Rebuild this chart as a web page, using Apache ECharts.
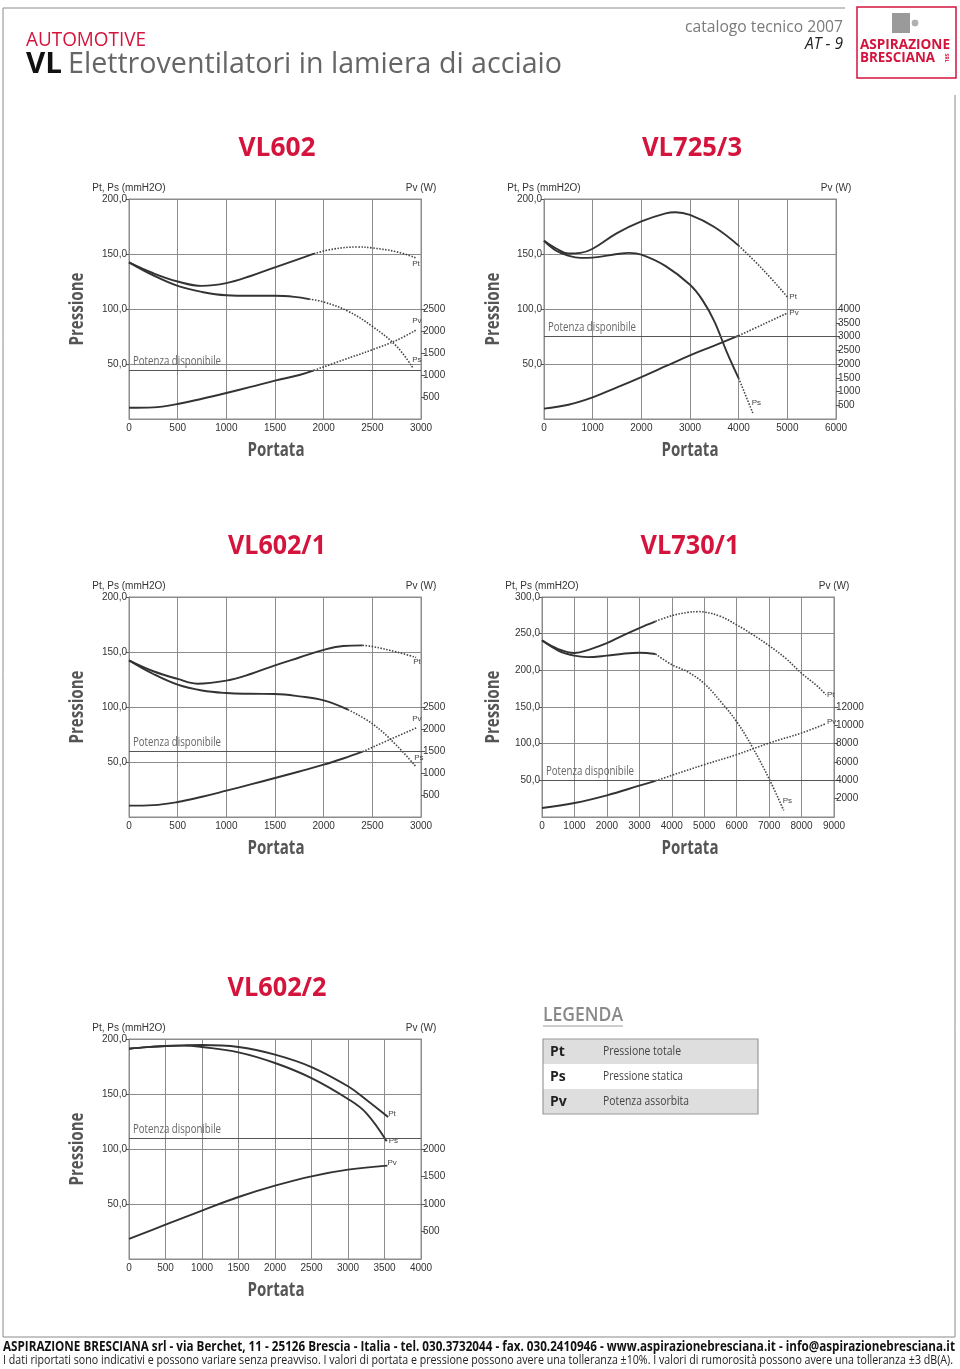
<!DOCTYPE html>
<html>
<head>
<meta charset="utf-8">
<title>VL Elettroventilatori in lamiera di acciaio</title>
<script src="https://cdn.jsdelivr.net/npm/echarts@6/dist/echarts.min.js"></script>
<style>
  html, body { margin: 0; padding: 0; background: #fff; }
  #main { width: 960px; height: 1369px; }
</style>
</head>
<body>
<div id="main"></div>
<script>
  // curve data read from the catalogue: [portata, value]
  // Pt / Ps in mmH2O (left axis), Pv in W (right axis)
  const vl602Pt = [[0,142.4],[250,132.5],[500,125],[750,121],[1000,123.5],[1250,130],[1500,137.9],[1750,145.5],[1900,150.3],[2100,154.5],[2350,156.4],[2500,155.5],[2750,152],[2950,146.4]];
  const vl602Ps = [[0,142.4],[250,130.5],[500,121],[750,115.5],[1000,112.5],[1250,112],[1500,112],[1700,111],[1850,109],[2000,106.4],[2250,98],[2500,84.2],[2750,66],[2920,46]];
  const vl602Pv = [[0,255],[250,265],[500,341],[750,460],[1000,591],[1250,730],[1500,871],[1750,1000],[1900,1106],[2200,1340],[2500,1576],[2750,1790],[2950,2023]];
  const vl602SolidEnd = [1900, 1850, 1900];
  const vl602Potenza = 1100;

  const vl725Pt = [[0,162],[250,155],[500,150.5],[750,151],[1000,154.8],[1500,169],[2000,179.7],[2500,187],[2700,188],[3000,185.5],[3500,174.5],[4000,157.6],[4500,135.8],[5000,111]];
  const vl725Ps = [[0,162],[250,153],[500,148.5],[750,146.5],[1000,146.7],[1500,150],[1750,151],[2000,149.4],[2500,139],[3000,122],[3250,108.5],[3500,88.8],[3750,61.5],[4000,37],[4290,5.5]];
  const vl725Pv = [[0,376],[500,520],[1000,788],[1500,1150],[2000,1527],[2500,1920],[3000,2315],[3500,2670],[4000,3030],[4500,3440],[5000,3854]];
  const vl725SolidEnd = [4000, 4000, 4000];
  const vl725Potenza = 3000;

  const vl6021Pt = [[0,142.4],[250,132.5],[500,125.5],[700,121.2],[1000,124],[1250,130],[1500,137.9],[1750,145],[2000,152],[2200,155.5],[2400,156],[2500,155],[2750,150],[2950,145]];
  const vl6021Ps = [[0,142.4],[250,130],[500,120.3],[750,115],[1000,112.7],[1250,112],[1500,111.8],[1750,109.7],[2000,106],[2250,97.6],[2500,84.8],[2750,65],[2950,45.5]];
  const vl6021Pv = [[0,258],[250,270],[500,341],[750,460],[1000,598],[1250,740],[1500,886],[1750,1035],[2000,1189],[2200,1330],[2400,1485],[2700,1780],[2950,2023]];
  const vl6021SolidEnd = [2400, 2250, 2400];
  const vl6021Potenza = 1500;

  const vl730Pt = [[0,240.9],[500,229],[1000,223.6],[1500,229],[2000,237],[2500,247.7],[3000,257.7],[3500,266.8],[4000,274.5],[4500,279],[4800,280],[5000,279.5],[5500,273.6],[6000,262],[6500,248.6],[7000,233.6],[7500,216.8],[8000,196],[8500,178],[8750,166.8]];
  const vl730Ps = [[0,240.9],[500,227],[1000,220],[1400,218],[2000,220],[2500,222.7],[3000,224],[3500,222.3],[4000,207.7],[4500,197.7],[5000,182],[5500,157.7],[6000,130],[6500,94],[7000,52],[7450,9]];
  const vl730Pv = [[0,982],[1000,1527],[2000,2363],[3000,3418],[3500,3950],[4000,4545],[5000,5709],[6000,6800],[7000,8072],[8000,9163],[8750,10181]];
  const vl730SolidEnd = [3500, 3500, 3500];
  const vl730Potenza = 4000;

  const vl6022Pt = [[0,191.2],[250,192.6],[500,193.6],[750,194.2],[1000,194.5],[1500,192.7],[2000,185.8],[2500,174.5],[3000,157],[3250,144.8],[3550,129]];
  const vl6022Ps = [[0,191.2],[250,192.6],[500,193.6],[750,194],[1000,192.7],[1500,187.9],[2000,178.2],[2500,164.5],[3000,145.5],[3250,132.7],[3530,107]];
  const vl6022Pv = [[0,364],[500,624],[1000,880],[1500,1127],[2000,1333],[2500,1503],[3000,1624],[3540,1697]];
  const vl6022SolidEnd = [3550, 3530, 3540];
  const vl6022Potenza = 2200;

  // tick labels
  const press200Ticks = [50, 100, 150, 200];
  const press300Ticks = [50, 100, 150, 200, 250, 300];
  const vl602PvTicks = [500, 1000, 1500, 2000, 2500];
  const vl725PvTicks = [500, 1000, 1500, 2000, 2500, 3000, 3500, 4000];
  const vl730PvTicks = [2000, 4000, 6000, 8000, 10000, 12000];
  const vl6022PvTicks = [500, 1000, 1500, 2000];

  const RED = '#d4143c';
  const AX = '"Liberation Sans", Arial, sans-serif';
  const HF = '"Open Sans", "Noto Sans", sans-serif';
  const GRIDC = '#8c8c8c';
  const CURVE = '#333';

  const charts = [
    { title: 'VL602', left: 129, top: 199, xMax: 3000, xStep: 500, yMax: 200, yTicks: press200Ticks,
      pvMax: 5000, pvStep: 500, pvTicks: vl602PvTicks, potenza: vl602Potenza,
      curves: [[vl602Pt, vl602SolidEnd[0], 'Pt', [-4, 6], 0], [vl602Ps, vl602SolidEnd[1], 'Ps', [-1, -9], 0], [vl602Pv, vl602SolidEnd[2], 'Pv', [-4, -9], 1]],
      titleW: 77, pressX: 78, portX: 276 },
    { title: 'VL725/3', left: 544, top: 199, xMax: 6000, xStep: 1000, yMax: 200, yTicks: press200Ticks,
      pvMax: 8000, pvStep: 500, pvTicks: vl725PvTicks, potenza: vl725Potenza,
      curves: [[vl725Pt, vl725SolidEnd[0], 'Pt', [2, 0], 0], [vl725Ps, vl725SolidEnd[1], 'Ps', [-1, -10], 0], [vl725Pv, vl725SolidEnd[2], 'Pv', [2, 0], 1]],
      titleW: 100, pressX: 494, portX: 690 },
    { title: 'VL602/1', left: 129, top: 597, xMax: 3000, xStep: 500, yMax: 200, yTicks: press200Ticks,
      pvMax: 5000, pvStep: 500, pvTicks: vl602PvTicks, potenza: vl6021Potenza,
      curves: [[vl6021Pt, vl6021SolidEnd[0], 'Pt', [-3, 4], 0], [vl6021Ps, vl6021SolidEnd[1], 'Ps', [-2, -9], 0], [vl6021Pv, vl6021SolidEnd[2], 'Pv', [-4, -9], 1]],
      titleW: 98, pressX: 78, portX: 276 },
    { title: 'VL730/1', left: 542, top: 597, xMax: 9000, xStep: 1000, yMax: 300, yTicks: press300Ticks,
      pvMax: 24000, pvStep: 2000, pvTicks: vl730PvTicks, potenza: vl730Potenza,
      curves: [[vl730Pt, vl730SolidEnd[0], 'Pt', [1, 0], 0], [vl730Ps, vl730SolidEnd[1], 'Ps', [-1, -10], 0], [vl730Pv, vl730SolidEnd[2], 'Pv', [1, -2], 1]],
      titleW: 99, pressX: 494, portX: 690 },
    { title: 'VL602/2', left: 129, top: 1039, xMax: 4000, xStep: 500, yMax: 200, yTicks: press200Ticks,
      pvMax: 4000, pvStep: 500, pvTicks: vl6022PvTicks, potenza: vl6022Potenza,
      curves: [[vl6022Pt, vl6022SolidEnd[0], 'Pt', [0, -3], 0], [vl6022Ps, vl6022SolidEnd[1], 'Ps', [2, -1], 0], [vl6022Pv, vl6022SolidEnd[2], 'Pv', [0, -3], 1]],
      titleW: 99, pressX: 78, portX: 276 }
  ];
  const PW = 292, PH = 220;

  const grid = [], xAxis = [], yAxis = [], series = [];

  charts.forEach((c, i) => {
    grid.push({ left: c.left, top: c.top, width: PW, height: PH, show: true, borderColor: GRIDC, borderWidth: 1, backgroundColor: 'transparent' });
    xAxis.push({
      gridIndex: i, type: 'value', min: 0, max: c.xMax, interval: c.xStep,
      axisLine: { show: true, onZero: false, lineStyle: { color: GRIDC } },
      axisTick: { show: false },
      axisLabel: { fontSize: 10, color: '#333', fontFamily: AX, margin: 4, showMaxLabel: true, showMinLabel: true,
        formatter: v => String(v) },
      splitLine: { show: true, lineStyle: { color: GRIDC, width: 1 } }
    });
    yAxis.push({
      gridIndex: i, type: 'value', position: 'left', min: 0, max: c.yMax, interval: 50,
      name: 'Pt, Ps (mmH2O)', nameLocation: 'end', nameGap: 6,
      nameTextStyle: { fontSize: 10, color: '#333', fontFamily: AX, align: 'center' },
      axisLine: { show: true, lineStyle: { color: GRIDC } },
      axisTick: { show: true, length: 3, customValues: c.yTicks, lineStyle: { color: '#555' } },
      axisLabel: { customValues: c.yTicks, fontSize: 10, color: '#333', fontFamily: AX, margin: 2,
        formatter: v => v.toFixed(1).replace('.', ',') },
      splitLine: { show: true, lineStyle: { color: GRIDC, width: 1 } }
    });
    yAxis.push({
      gridIndex: i, type: 'value', position: 'right', min: 0, max: c.pvMax, interval: c.pvStep,
      name: 'Pv (W)', nameLocation: 'end', nameGap: 6,
      nameTextStyle: { fontSize: 10, color: '#333', fontFamily: AX, align: 'center' },
      axisLine: { show: true, lineStyle: { color: GRIDC } },
      axisTick: { show: true, length: 4, customValues: c.pvTicks, lineStyle: { color: '#555' } },
      axisLabel: { customValues: c.pvTicks, fontSize: 10, color: '#333', fontFamily: AX, margin: 2,
        formatter: v => String(v) },
      splitLine: { show: false }
    });

    c.curves.forEach(([pts, solidEnd, name, off, side]) => {
      const solid = pts.filter(p => p[0] <= solidEnd);
      const dotted = pts.filter(p => p[0] >= solidEnd);
      const yIdx = 2 * i + side;
      const endLabel = { show: true, formatter: name, offset: off, distance: 0, fontSize: 8, color: '#444', fontFamily: AX };
      const hasDotted = dotted.length > 1;
      const solidS = {
        type: 'line', name: c.title + ' ' + name, xAxisIndex: i, yAxisIndex: yIdx,
        data: solid, smooth: 0.4, showSymbol: false, silent: true,
        lineStyle: { color: CURVE, width: 1.9 }, itemStyle: { color: CURVE },
        endLabel: hasDotted ? { show: false } : endLabel
      };
      if (side === 1) {
        solidS.markLine = {
          silent: true, symbol: 'none', animation: false,
          lineStyle: { color: '#555', width: 1, type: 'solid' },
          label: { show: false },
          data: [{ yAxis: c.potenza }]
        };
      }
      series.push(solidS);
      if (hasDotted) {
        series.push({
          type: 'line', name: c.title + ' ' + name + ' (oltre)', xAxisIndex: i, yAxisIndex: yIdx,
          data: dotted, smooth: 0.4, showSymbol: false, silent: true,
          lineStyle: { color: '#444', width: 1.6, type: [1.5, 1.5] }, itemStyle: { color: '#444' },
          endLabel: endLabel
        });
      }
    });
  });

  const chart = echarts.init(document.getElementById('main'));
  chart.setOption({
    animation: false,
    backgroundColor: '#fff',
    grid, xAxis, yAxis, series
  });

  // text helper: scales text horizontally to the width it has in the catalogue
  const mctx = document.createElement('canvas').getContext('2d');
  function txt(text, x, y, o) {
    const size = o.size, weight = o.weight || 'normal', fstyle = o.italic ? 'italic' : 'normal';
    const family = o.family || HF;
    let sx = 1;
    if (o.width) {
      mctx.font = fstyle + ' ' + weight + ' ' + size + 'px ' + family;
      sx = o.width / mctx.measureText(text).width;
    }
    return {
      type: 'text', x: x, y: y, rotation: o.rot || 0, scaleX: sx, silent: true, z: 10,
      style: { text: text, fontSize: size, fontWeight: weight, fontStyle: fstyle, fontFamily: family,
        fill: o.color || '#000', align: o.align || 'left', verticalAlign: 'middle' }
    };
  }
  function line(x1, y1, x2, y2, color, w) {
    return { type: 'line', silent: true, shape: { x1, y1, x2, y2 }, style: { stroke: color, lineWidth: w || 1 } };
  }

  const g = [];
  // page frame
  g.push(line(3, 8, 845, 8, '#8a8a8a'));
  g.push(line(3, 8, 3, 1337, '#8a8a8a'));
  g.push(line(3, 1337, 955, 1337, '#8a8a8a'));
  g.push(line(955, 95, 955, 1337, '#8a8a8a'));

  // header
  g.push(txt('AUTOMOTIVE', 26, 40, { size: 20, color: RED, width: 120 }));
  g.push(txt('VL', 26, 65, { size: 29, weight: 'bold', color: '#111', width: 36 }));
  g.push(txt('Elettroventilatori in lamiera di acciaio', 68, 65, { size: 29, color: '#666', width: 494 }));
  g.push(txt('catalogo tecnico 2007', 843, 27, { size: 17, color: '#7a7a7a', align: 'right', width: 158 }));
  g.push(txt('AT - 9', 843, 44, { size: 16, italic: true, color: '#222', align: 'right', width: 38 }));

  // logo
  g.push({ type: 'rect', silent: true, shape: { x: 857, y: 7, width: 99, height: 71 }, style: { fill: '#fff', stroke: RED, lineWidth: 1.5 } });
  g.push({ type: 'rect', silent: true, shape: { x: 892, y: 13, width: 18, height: 20 }, style: { fill: '#9a9a9a' } });
  g.push({ type: 'circle', silent: true, shape: { cx: 915, cy: 23, r: 4 }, style: { fill: '#b0b0b0', stroke: '#fff', lineWidth: 1 } });
  g.push(txt('ASPIRAZIONE', 860, 45, { size: 15, weight: 'bold', color: RED, width: 90 }));
  g.push(txt('BRESCIANA', 860, 58, { size: 15, weight: 'bold', color: RED, width: 75 }));
  g.push(txt('SRL', 946, 58, { size: 5, weight: 'bold', color: RED, rot: -Math.PI / 2, align: 'center' }));

  // per-chart texts
  charts.forEach((c, i) => {
    const cx = c.left + PW / 2;
    g.push(txt(c.title, cx + 2, c.top - 51, { size: 27, weight: 'bold', color: RED, align: 'center', width: c.titleW }));
    g.push(txt('Pressione', c.pressX, c.top + 110, { size: 19, weight: 'bold', color: '#555', align: 'center', rot: Math.PI / 2, width: 73 }));
    g.push(txt('Portata', c.portX, c.top + PH + 32, { size: 19, weight: 'bold', color: '#555', align: 'center', width: 57 }));
    const py = chart.convertToPixel({ yAxisIndex: 2 * i + 1 }, c.potenza);
    g.push(txt('Potenza disponibile', c.left + 4, py - 9, { size: 13, color: '#666', width: 88 }));
  });

  // legend box
  g.push(txt('LEGENDA', 543, 1016, { size: 19, weight: '600', color: '#8a8a8a', width: 80 }));
  g.push(line(543, 1026, 623, 1026, '#9a9a9a'));
  const legRows = [['Pt', 'Pressione totale', 78], ['Ps', 'Pressione statica', 80], ['Pv', 'Potenza assorbita', 86]];
  legRows.forEach((r, k) => {
    const y0 = 1039 + k * 25;
    g.push({ type: 'rect', silent: true, shape: { x: 543, y: y0, width: 215, height: 25 }, style: { fill: k === 1 ? '#fff' : '#dedede' } });
    g.push(txt(r[0], 550, y0 + 13, { size: 14, weight: 'bold', color: '#222' }));
    g.push(txt(r[1], 603, y0 + 12.5, { size: 12, color: '#444', width: r[2] }));
  });
  g.push({ type: 'rect', silent: true, z: 11, shape: { x: 543, y: 1039, width: 215, height: 75 }, style: { fill: 'none', stroke: '#9a9a9a', lineWidth: 1.2 } });

  // footer
  g.push(txt('ASPIRAZIONE BRESCIANA srl - via Berchet, 11 - 25126 Brescia - Italia - tel. 030.3732044 - fax. 030.2410946 - www.aspirazionebresciana.it - info@aspirazionebresciana.it',
    3, 1347, { size: 14, weight: 'bold', color: '#111', width: 952 }));
  g.push(txt('I dati riportati sono indicativi e possono variare senza preavviso. I valori di portata e pressione possono avere una tolleranza ±10%. I valori di rumorosità possono avere una tolleranza ±3 dB(A).',
    3, 1361, { size: 12, color: '#222', width: 950 }));

  chart.setOption({ graphic: g });
</script>
</body>
</html>
